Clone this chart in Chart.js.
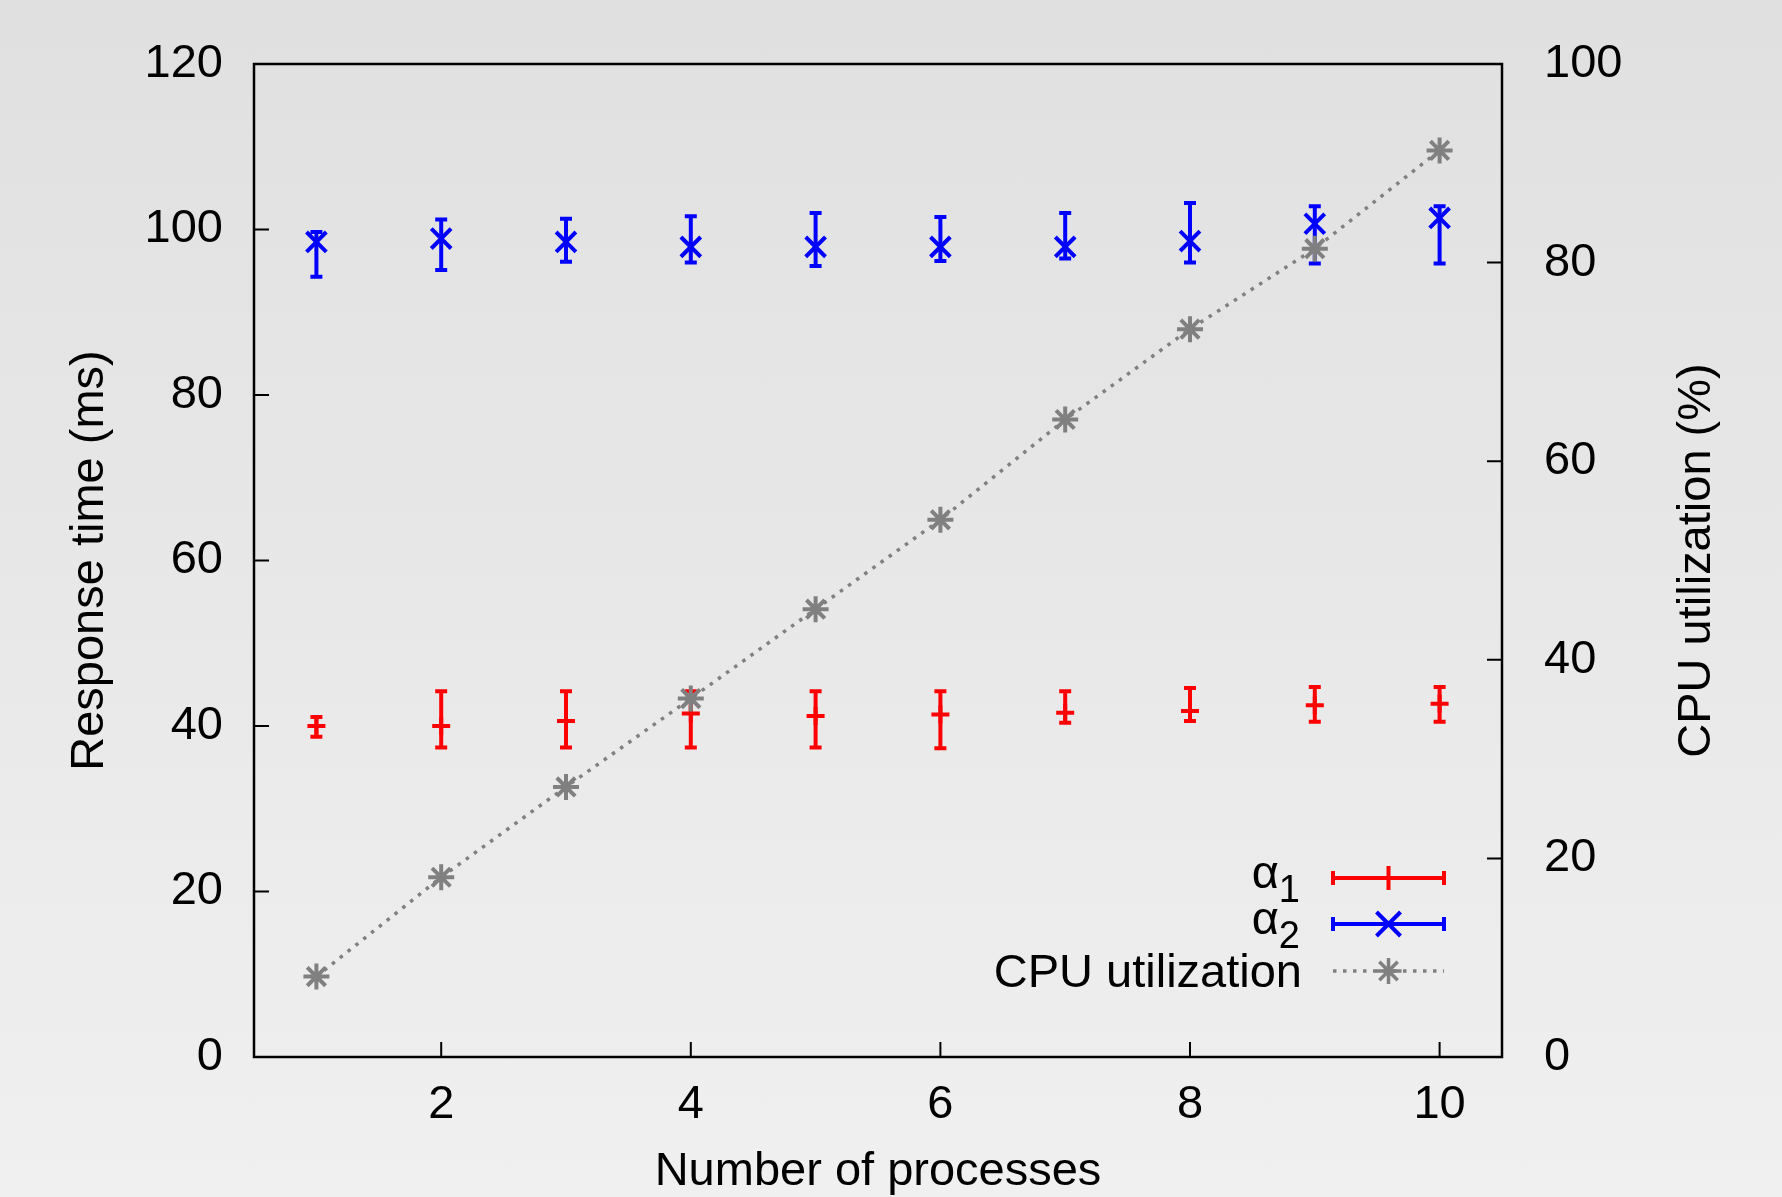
<!DOCTYPE html>
<html>
<head>
<meta charset="utf-8">
<script src="https://cdn.jsdelivr.net/npm/chart.js@4.4.1/dist/chart.umd.min.js"></script>
<style>
html, body { margin: 0; padding: 0; }
body { width: 1782px; height: 1197px; overflow: hidden; background: linear-gradient(to bottom, #e0e0e0, #f0f0f0); }
#wrap { position: relative; width: 1782px; height: 1197px; }
</style>
</head>
<body>
<div id="wrap"><canvas id="chart"></canvas></div>
<script>
// data
const procs = [1, 2, 3, 4, 5, 6, 7, 8, 9, 10];

// alpha 1 (red), ms
const a1Mean = [40.0, 40.0, 40.6, 41.5, 41.2, 41.4, 41.6, 41.8, 42.5, 42.7];
const a1Low  = [38.7, 37.4, 37.4, 37.4, 37.4, 37.3, 40.4, 40.6, 40.5, 40.5];
const a1High = [41.1, 44.2, 44.2, 44.2, 44.2, 44.2, 44.2, 44.6, 44.7, 44.7];

// alpha 2 (blue), ms
const a2Mean = [98.5, 98.9, 98.5, 97.9, 97.9, 97.9, 97.9, 98.6, 100.7, 101.4];
const a2Low  = [94.3, 95.1, 96.1, 96.0, 95.6, 96.2, 96.5, 96.0, 95.9, 95.9];
const a2High = [99.7, 101.2, 101.3, 101.6, 102.0, 101.5, 102.0, 103.2, 102.8, 102.8];

// CPU utilization, %
const cpu = [8.1, 18.1, 27.2, 36.1, 45.1, 54.1, 64.2, 73.3, 81.4, 91.3];

const xTicks = [2, 4, 6, 8, 10];
const yTicks = [0, 20, 40, 60, 80, 100, 120];
const y2Ticks = [0, 20, 40, 60, 80, 100];

const FONT = '"Liberation Sans", Arial, sans-serif';
const RED = '#ff0000', BLUE = '#0000ff', GRAY = '#808080';
const LW = 4;

function pts(vals) {
    return procs.map((p, i) => ({x: p, y: vals[i]}));
}

// оси фиксированного размера, без авто-отступов под подписи
function fixBox(w, h) {
    return s => {
        if (w != null) s.width = w;
        if (h != null) s.height = h;
        s.paddingTop = 0; s.paddingBottom = 0;
        s.paddingLeft = 0; s.paddingRight = 0;
    };
}

// рамка + засечки внутрь (как в gnuplot)
const framePlugin = {
    id: 'frame',
    beforeDatasetsDraw(chart) {
        const {ctx, chartArea: a, scales} = chart;
        const tl = 15;
        ctx.save();
        ctx.strokeStyle = '#000';
        ctx.lineWidth = 2.5;
        ctx.strokeRect(a.left, a.top, a.right - a.left, a.bottom - a.top);
        ctx.lineWidth = 2;
        ctx.beginPath();
        yTicks.forEach(v => {
            const y = scales.y.getPixelForValue(v);
            ctx.moveTo(a.left, y); ctx.lineTo(a.left + tl, y);
        });
        y2Ticks.forEach(v => {
            const y = scales.y2.getPixelForValue(v);
            ctx.moveTo(a.right, y); ctx.lineTo(a.right - tl, y);
        });
        xTicks.forEach(v => {
            const x = scales.x.getPixelForValue(v);
            ctx.moveTo(x, a.bottom); ctx.lineTo(x, a.bottom - tl);
        });
        ctx.stroke();
        ctx.restore();
    }
};

// error bars
const errorBarPlugin = {
    id: 'errorBars',
    beforeDatasetsDraw(chart) {
        const {ctx, scales} = chart;
        ctx.save();
        chart.data.datasets.forEach(ds => {
            if (!ds.errLow) return;
            const ys = scales[ds.yAxisID];
            ctx.strokeStyle = ds.pointBorderColor;
            ctx.lineWidth = LW;
            ctx.beginPath();
            procs.forEach((p, i) => {
                const x = scales.x.getPixelForValue(p);
                const yl = ys.getPixelForValue(ds.errLow[i]);
                const yh = ys.getPixelForValue(ds.errHigh[i]);
                ctx.moveTo(x, yl); ctx.lineTo(x, yh);
                ctx.moveTo(x - 6, yl); ctx.lineTo(x + 6, yl);
                ctx.moveTo(x - 6, yh); ctx.lineTo(x + 6, yh);
            });
            ctx.stroke();
        });
        ctx.restore();
    }
};

// legend in the lower right + right axis title (reads bottom-to-top)
const extrasPlugin = {
    id: 'extras',
    afterDraw(chart) {
        const {ctx, chartArea: a} = chart;
        ctx.save();
        ctx.fillStyle = '#000';
        ctx.font = '47px ' + FONT;
        ctx.textAlign = 'center';
        ctx.textBaseline = 'middle';
        ctx.translate(chart.width - 85, (a.top + a.bottom) / 2);
        ctx.rotate(-Math.PI / 2);
        ctx.fillText('CPU utilization (%)', 0, 0);
        ctx.restore();

        const rows = [878, 924, 971];
        const x0 = 1333, x1 = 1444, xm = (x0 + x1) / 2, textR = 1300;
        ctx.save();
        ctx.fillStyle = '#000';
        ctx.textBaseline = 'alphabetic';

        // alpha rows
        [['1', RED, 'cross', 12], ['2', BLUE, 'crossRot', 17]].forEach((r, k) => {
            const y = rows[k];
            ctx.font = '38px ' + FONT;
            const subW = ctx.measureText(r[0]).width;
            ctx.textAlign = 'left';
            ctx.fillText(r[0], textR - subW, y + 24);
            ctx.font = '47px ' + FONT;
            ctx.textAlign = 'right';
            ctx.fillText('α', textR - subW, y + 10);

            ctx.strokeStyle = r[1];
            ctx.lineWidth = LW;
            ctx.beginPath();
            ctx.moveTo(x0, y); ctx.lineTo(x1, y);
            ctx.moveTo(x0, y - 7); ctx.lineTo(x0, y + 7);
            ctx.moveTo(x1, y - 7); ctx.lineTo(x1, y + 7);
            ctx.stroke();
            ctx.fillStyle = 'rgba(0,0,0,0)';
            Chart.helpers.drawPoint(ctx, {pointStyle: r[2], radius: r[3], borderWidth: LW, rotation: 0}, xm, y);
            ctx.fillStyle = '#000';
        });

        // cpu row
        const y = rows[2];
        ctx.font = '47px ' + FONT;
        ctx.textAlign = 'right';
        ctx.fillText('CPU utilization', textR + 2, y + 16);
        ctx.strokeStyle = GRAY;
        ctx.lineWidth = 3.5;
        ctx.setLineDash([3.5, 6.5]);
        ctx.beginPath();
        ctx.moveTo(x0, y); ctx.lineTo(x1, y);
        ctx.stroke();
        ctx.setLineDash([]);
        ctx.fillStyle = 'rgba(0,0,0,0)';
        Chart.helpers.drawPoint(ctx, {pointStyle: 'star', radius: 13, borderWidth: 4, rotation: 0}, xm, y);
        ctx.restore();
    }
};

const tickFont = {family: FONT, size: 47};

new Chart(document.getElementById('chart'), {
    type: 'scatter',
    data: {
        datasets: [{
            label: 'α1',
            data: pts(a1Mean),
            errLow: a1Low,
            errHigh: a1High,
            yAxisID: 'y',
            pointStyle: 'cross',
            pointRadius: 9,
            pointBorderWidth: LW,
            pointBorderColor: RED,
            borderColor: RED,
            order: 2
        }, {
            label: 'α2',
            data: pts(a2Mean),
            errLow: a2Low,
            errHigh: a2High,
            yAxisID: 'y',
            pointStyle: 'crossRot',
            pointRadius: 14,
            pointBorderWidth: LW,
            pointBorderColor: BLUE,
            borderColor: BLUE,
            order: 1
        }, {
            label: 'CPU utilization',
            data: pts(cpu),
            yAxisID: 'y2',
            showLine: true,
            borderColor: GRAY,
            borderWidth: 3.5,
            borderDash: [3.5, 6.5],
            pointStyle: 'star',
            pointRadius: 13,
            pointBorderWidth: 4,
            pointBorderColor: GRAY,
            order: 0
        }]
    },
    options: {
        responsive: true,
        maintainAspectRatio: false,
        animation: false,
        layout: {padding: {top: 64, left: 0, right: 0, bottom: 0}},
        plugins: {
            legend: {display: false},
            tooltip: {enabled: false}
        },
        scales: {
            x: {
                type: 'linear',
                position: 'bottom',
                min: 0.5,
                max: 10.5,
                afterBuildTicks: s => { s.ticks = xTicks.map(v => ({value: v})); },
                afterFit: fixBox(null, 140),
                grid: {display: false, drawTicks: false},
                border: {display: false},
                ticks: {padding: 20, color: '#000', font: tickFont},
                title: {
                    display: true,
                    text: 'Number of processes',
                    color: '#000',
                    font: {family: FONT, size: 47, lineHeight: 1},
                    padding: {top: 0, bottom: 1}
                }
            },
            y: {
                type: 'linear',
                position: 'left',
                min: 0,
                max: 120,
                afterBuildTicks: s => { s.ticks = yTicks.map(v => ({value: v})); },
                afterFit: fixBox(254, null),
                grid: {display: false, drawTicks: false},
                border: {display: false},
                ticks: {padding: 31, color: '#000', font: tickFont},
                title: {
                    display: true,
                    text: 'Response time (ms)',
                    color: '#000',
                    font: {family: FONT, size: 47, lineHeight: 1},
                    padding: {top: 67, bottom: 0}
                }
            },
            y2: {
                type: 'linear',
                position: 'right',
                min: 0,
                max: 100,
                afterBuildTicks: s => { s.ticks = y2Ticks.map(v => ({value: v})); },
                afterFit: fixBox(280, null),
                grid: {display: false, drawTicks: false},
                border: {display: false},
                ticks: {padding: 42, color: '#000', font: tickFont}
            }
        }
    },
    plugins: [framePlugin, errorBarPlugin, extrasPlugin]
});
</script>
</body>
</html>
